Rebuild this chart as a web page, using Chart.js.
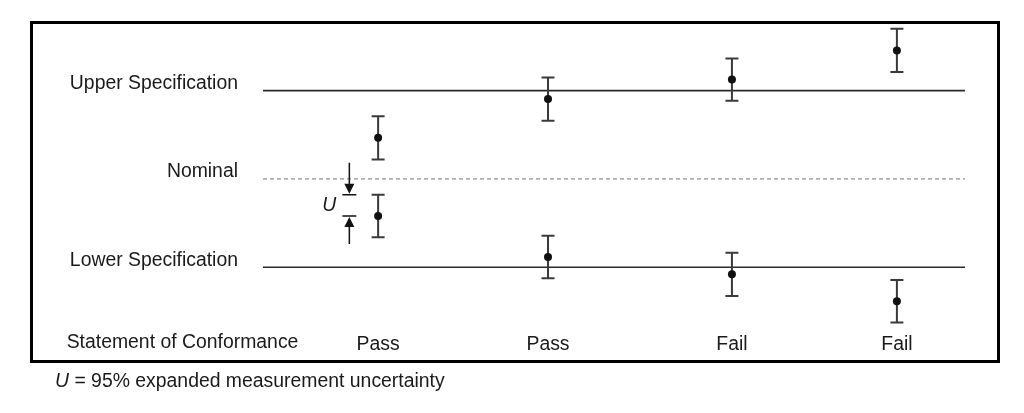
<!DOCTYPE html>
<html><head><meta charset="utf-8">
<script src="https://cdn.jsdelivr.net/npm/chart.js@4/dist/chart.umd.min.js"></script>
<style>html,body{margin:0;padding:0;background:#fff;overflow:hidden}#wrap{position:relative;width:1024px;height:413px}</style>
</head><body><div id="wrap"><canvas id="c" width="1024" height="413"></canvas></div>
<script>
// ---- data ----
const sampleLabels = ['Pass', 'Pass', 'Fail', 'Fail'];
const samplePositions = [16.4, 40.6, 66.8, 90.3];
const upperResults = [4.65, 9.05, 11.25, 14.55];
const lowerResults = [-4.2, -8.85, -10.8, -13.85];
const upperU = [2.45, 2.45, 2.4, 2.45];
const lowerU = [2.4, 2.4, 2.45, 2.4];
const specValues = [10, 0, -10];
const specLabels = ['Upper Specification', 'Nominal', 'Lower Specification'];
const rowHeader = 'Statement of Conformance';
const uSymbol = 'U';
const footnote = ' = 95% expanded measurement uncertainty';
const uArrowPosition = 12.3;

const FONT = "'Liberation Sans', Arial, sans-serif";
const FS = 19.4;
const TXT = '#1a1a1a';

const points = [];
samplePositions.forEach((x, i) => {
  points.push({ x: x, y: upperResults[i], u: upperU[i] });
  points.push({ x: x, y: lowerResults[i], u: lowerU[i] });
});

const specDatasets = specValues.map((v, i) => ({
  type: 'line',
  data: [{ x: 0, y: v }, { x: 100, y: v }],
  borderColor: v === 0 ? '#777777' : '#2a2a2a',
  borderWidth: v === 0 ? 1 : 1.6,
  borderDash: v === 0 ? [4, 3] : [],
  pointRadius: 0,
  order: 2
}));

const measDataset = {
  type: 'scatter',
  data: points,
  pointRadius: 4,
  pointBackgroundColor: '#111',
  pointBorderColor: '#111',
  pointBorderWidth: 0,
  order: 1
};

const errorBars = {
  id: 'errorBars',
  beforeDatasetDraw(chart, args) {
    if (args.meta.type !== 'scatter') return;
    const xs = chart.scales.x, ys = chart.scales.y, ctx = chart.ctx;
    ctx.save();
    ctx.strokeStyle = '#3a3a3a';
    ctx.lineWidth = 2;
    points.forEach(p => {
      const px = xs.getPixelForValue(p.x);
      const top = ys.getPixelForValue(p.y + p.u);
      const bot = ys.getPixelForValue(p.y - p.u);
      ctx.beginPath();
      ctx.moveTo(px, top); ctx.lineTo(px, bot);
      ctx.moveTo(px - 6.5, top); ctx.lineTo(px + 6.5, top);
      ctx.moveTo(px - 6.5, bot); ctx.lineTo(px + 6.5, bot);
      ctx.stroke();
    });
    ctx.restore();
  }
};

const decorations = {
  id: 'decorations',
  afterDraw(chart) {
    const ctx = chart.ctx, xs = chart.scales.x, ys = chart.scales.y;
    ctx.save();
    // frame
    ctx.strokeStyle = '#000';
    ctx.lineWidth = 3;
    ctx.strokeRect(31.5, 22.5, 967, 339);
    // row header aligned with the conformance labels
    ctx.fillStyle = TXT;
    ctx.font = FS + 'px ' + FONT;
    ctx.textAlign = 'center';
    ctx.textBaseline = 'middle';
    const labelY = xs.top + 14;
    ctx.fillText(rowHeader, 182.5, labelY);

    // U annotation: interval between a result and its upper limit
    const ax = xs.getPixelForValue(uArrowPosition);
    const y1 = ys.getPixelForValue(lowerResults[0] + lowerU[0]);
    const y2 = ys.getPixelForValue(lowerResults[0]);
    ctx.strokeStyle = '#111';
    ctx.fillStyle = '#111';
    ctx.lineWidth = 1.5;
    ctx.beginPath();
    ctx.moveTo(ax - 7, y1); ctx.lineTo(ax + 7, y1);
    ctx.moveTo(ax - 7, y2); ctx.lineTo(ax + 7, y2);
    ctx.moveTo(ax, y1 - 32); ctx.lineTo(ax, y1 - 9);
    ctx.moveTo(ax, y2 + 9); ctx.lineTo(ax, y2 + 28);
    ctx.stroke();
    ctx.beginPath();
    ctx.moveTo(ax, y1 - 1); ctx.lineTo(ax - 5, y1 - 11); ctx.lineTo(ax + 5, y1 - 11); ctx.closePath();
    ctx.moveTo(ax, y2 + 1); ctx.lineTo(ax - 5, y2 + 11); ctx.lineTo(ax + 5, y2 + 11); ctx.closePath();
    ctx.fill();
    ctx.fillStyle = TXT;
    ctx.font = 'italic ' + FS + 'px ' + FONT;
    ctx.textAlign = 'center';
    ctx.fillText(uSymbol, ax - 20, (y1 + y2) / 2);

    // footnote
    ctx.textAlign = 'left';
    ctx.font = 'italic ' + FS + 'px ' + FONT;
    ctx.fillText(uSymbol, 55, 382);
    const w = ctx.measureText(uSymbol).width;
    ctx.font = FS + 'px ' + FONT;
    ctx.fillText(footnote, 55 + w, 382);
    ctx.restore();
  }
};

new Chart(document.getElementById('c'), {
  type: 'scatter',
  data: { datasets: [...specDatasets, measDataset] },
  options: {
    responsive: false,
    animation: false,
    events: [],
    layout: { padding: { left: 0, right: 59, top: 20, bottom: 0 } },
    plugins: { legend: { display: false }, tooltip: { enabled: false } },
    scales: {
      x: {
        type: 'linear', min: 0, max: 100,
        grid: { display: false, drawTicks: false },
        border: { display: false },
        afterBuildTicks: s => { s.ticks = samplePositions.map(v => ({ value: v })); },
        afterFit: s => { s.height = 84; s.paddingLeft = 0; s.paddingRight = 0; },
        ticks: {
          autoSkip: false, maxRotation: 0, padding: 4,
          color: TXT, font: { family: FONT, size: FS },
          callback: (v, i) => sampleLabels[i]
        }
      },
      y: {
        type: 'linear', min: -17, max: 18,
        grid: { display: false, drawTicks: false },
        border: { display: false },
        afterBuildTicks: s => { s.ticks = specValues.map(v => ({ value: v })); },
        afterFit: s => { s.width = 263; s.paddingTop = 0; s.paddingBottom = 0; },
        ticks: {
          autoSkip: false, padding: 25, labelOffset: -7,
          color: TXT, font: { family: FONT, size: FS },
          callback: (v, i) => specLabels[i]
        }
      }
    }
  },
  plugins: [errorBars, decorations]
});
</script>
</body></html>
